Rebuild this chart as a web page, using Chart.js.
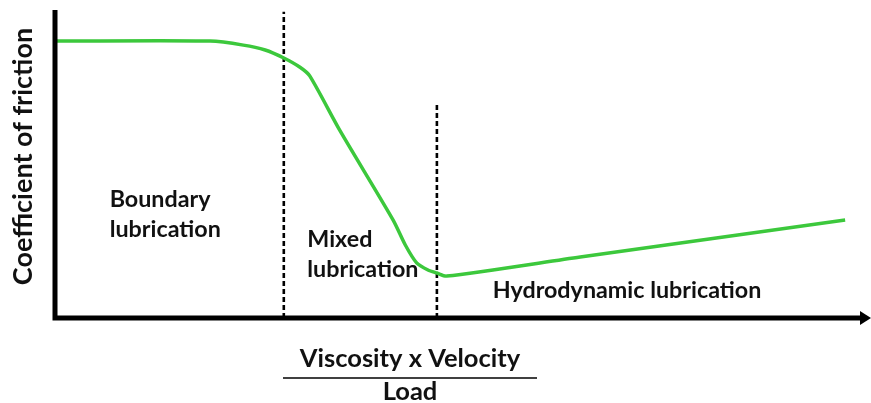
<!DOCTYPE html>
<html>
<head>
<meta charset="utf-8">
<script src="https://cdn.jsdelivr.net/npm/chart.js@4"></script>
<style>
  html, body { margin: 0; padding: 0; background: #fff; }
  #wrap { width: 871px; height: 403px; }
</style>
</head>
<body>
<div id="wrap"><canvas id="stribeck" width="871" height="403"></canvas></div>
<script>
// curve points (x = viscosity*velocity/load, y = friction), arbitrary 0-100 units
const curveX = [0, 18.9, 23.0, 25.7, 28.0, 30.0, 31.2, 34.9, 41.5, 43.0, 44.4, 45.8, 46.9, 48.1, 64.6, 97.3];
const curveY = [89.9, 89.9, 88.6, 87.0, 84.4, 81.4, 78.6, 61.0, 31.8, 23.7, 17.9, 15.6, 14.6, 13.6, 19.8, 31.8];

// regime boundaries (dashed lines)
const boundaryX = [28.0, 46.9];
const boundaryTop = [99.4, 69.2];

// region labels: text lines, anchor x, baseline y (data units)
const regionLines = [["Boundary", "lubrication"], ["Mixed", "lubrication"], ["Hydrodynamic lubrication"]];
const regionX = [6.5, 30.9, 53.8];
const regionY = [36.0, 23.1, 6.5];

const yTitle = "Coefficient of friction";
const xTitleTop = "Viscosity x Velocity";
const xTitleBottom = "Load";

const FONT = "Lato, 'Open Sans', sans-serif";

const toPts = (xs, ys) => xs.map((x, i) => ({ x: x, y: ys[i] }));

const dashSets = boundaryX.map((x, i) => ({
    data: [{ x: x, y: 0 }, { x: x, y: boundaryTop[i] }],
    borderColor: "#000",
    borderWidth: 2.6,
    borderDash: [5, 3],
    pointRadius: 0,
    tension: 0
}));

const decor = {
    id: "decor",
    afterDatasetsDraw(chart) {
        const ctx = chart.ctx;
        const a = chart.chartArea;
        const xs = chart.scales.x, ys = chart.scales.y;
        ctx.save();

        // axes
        ctx.strokeStyle = "#000";
        ctx.fillStyle = "#000";
        ctx.lineWidth = 5;
        ctx.beginPath();
        ctx.moveTo(a.left - 2, a.top);
        ctx.lineTo(a.left - 2, a.bottom);
        ctx.lineTo(a.right - 6, a.bottom);
        ctx.stroke();
        ctx.beginPath();
        ctx.moveTo(a.right + 4, a.bottom);
        ctx.lineTo(a.right - 7, a.bottom - 7);
        ctx.lineTo(a.right - 7, a.bottom + 7);
        ctx.closePath();
        ctx.fill();

        // region labels
        ctx.fillStyle = "#111";
        ctx.font = "bold 23.3px " + FONT;
        ctx.textAlign = "left";
        ctx.textBaseline = "alphabetic";
        regionLines.forEach((lines, i) => {
            const px = xs.getPixelForValue(regionX[i]);
            const py = ys.getPixelForValue(regionY[i]);
            lines.forEach((t, j) => ctx.fillText(t, px, py + j * 30));
        });

        // y title
        ctx.font = "bold 27px " + FONT;
        ctx.save();
        ctx.translate(32, (30 + 283) / 2);
        ctx.rotate(-Math.PI / 2);
        ctx.textAlign = "center";
        ctx.fillText(yTitle, 0, 0);
        ctx.restore();

        // x title as a fraction
        const cx = 410;
        ctx.textAlign = "center";
        ctx.font = "bold 25.5px " + FONT;
        ctx.fillText(xTitleTop, cx, 367);
        ctx.fillText(xTitleBottom, cx, 400);
        ctx.lineWidth = 1.5;
        ctx.beginPath();
        ctx.moveTo(283, 378);
        ctx.lineTo(537, 378);
        ctx.stroke();

        ctx.restore();
    }
};

new Chart(document.getElementById("stribeck"), {
    type: "line",
    data: {
        datasets: [{
            data: toPts(curveX, curveY),
            borderColor: "#3cc83c",
            borderWidth: 3.5,
            pointRadius: 0,
            tension: 0.25
        }].concat(dashSets)
    },
    options: {
        responsive: false,
        animation: false,
        layout: { padding: { left: 57, right: 4, top: 10, bottom: 85 } },
        plugins: { legend: { display: false }, tooltip: { enabled: false } },
        scales: {
            x: { type: "linear", min: 0, max: 100, display: false },
            y: { type: "linear", min: 0, max: 100, display: false }
        }
    },
    plugins: [decor]
});
</script>
</body>
</html>
